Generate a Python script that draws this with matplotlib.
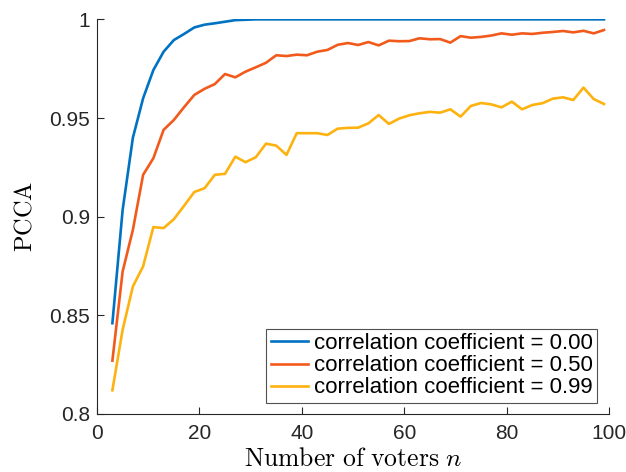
import numpy as np
import matplotlib
matplotlib.use('Agg')
import matplotlib.pyplot as plt

# number of voters (odd sizes only)
n_voters = list(range(3, 100, 2))

pcca_rho_000 = [0.846, 0.9034, 0.9400, 0.9600, 0.9743, 0.9836, 0.9895, 0.9926,
                0.9959, 0.9973, 0.9980, 0.9988, 0.9996, 0.9998] + [1.0] * 35

pcca_rho_050 = [0.827, 0.8722, 0.8933, 0.9212, 0.9296, 0.9440, 0.9490, 0.9555,
                0.9617, 0.9648, 0.9672, 0.9723, 0.9706, 0.9735, 0.9757, 0.9780,
                0.9818, 0.9814, 0.9821, 0.9818, 0.9836, 0.9845, 0.9871, 0.9880,
                0.9870, 0.9885, 0.9868, 0.9892, 0.9889, 0.9890, 0.9904, 0.9899,
                0.9900, 0.9882, 0.9915, 0.9907, 0.9911, 0.9918, 0.9929, 0.9922,
                0.9929, 0.9926, 0.9932, 0.9936, 0.9941, 0.9934, 0.9942, 0.9929,
                0.9946]

pcca_rho_099 = [0.812, 0.8427, 0.8646, 0.8748, 0.8947, 0.8942, 0.8987, 0.9055,
                0.9125, 0.9144, 0.9212, 0.9217, 0.9304, 0.9276, 0.9301, 0.9370,
                0.9360, 0.9313, 0.9423, 0.9423, 0.9423, 0.9414, 0.9446, 0.9450,
                0.9451, 0.9473, 0.9515, 0.9470, 0.9497, 0.9514, 0.9524, 0.9531,
                0.9527, 0.9544, 0.9507, 0.9561, 0.9576, 0.9569, 0.9554, 0.9583,
                0.9544, 0.9566, 0.9575, 0.9598, 0.9605, 0.9591, 0.9654, 0.9596,
                0.9571]

labels = ['correlation coefficient = 0.00',
          'correlation coefficient = 0.50',
          'correlation coefficient = 0.99']
colors = ['#0072C2', '#F25A1C', '#FDB20F']

x_ticks = [0, 20, 40, 60, 80, 100]
y_ticks = [0.8, 0.85, 0.9, 0.95, 1.0]
y_tick_labels = ['0.8', '0.85', '0.9', '0.95', '1']

plt.rcParams['font.family'] = ['Liberation Sans', 'DejaVu Sans']
plt.rcParams['mathtext.fontset'] = 'cm'

fig = plt.figure(figsize=(6.26, 4.72), dpi=100)
ax = fig.add_axes([0.155, 0.123, 0.818, 0.836])

for ys, lab, c in zip([pcca_rho_000, pcca_rho_050, pcca_rho_099], labels, colors):
    ax.plot(n_voters, ys, color=c, linewidth=1.9, label=lab)

ax.set_xlim(0, 100)
ax.set_ylim(0.8, 1.0)
ax.set_xticks(x_ticks)
ax.set_yticks(y_ticks)
ax.set_yticklabels(y_tick_labels)

for side in ['top', 'right']:
    ax.spines[side].set_visible(False)
for side in ['left', 'bottom']:
    ax.spines[side].set_color('#262626')
    ax.spines[side].set_linewidth(0.8)
ax.tick_params(direction='in', length=5, width=0.8, colors='#262626',
               labelsize=15)
ax.tick_params(axis='x', pad=7)
ax.tick_params(axis='y', pad=5)

ax.set_xlabel(r'$\mathrm{Number\ of\ voters}\ n$', fontsize=18.5, labelpad=3)
ax.set_ylabel(r'$\mathrm{PCCA}$', fontsize=17.5, labelpad=9)

leg = ax.legend(loc='lower right', bbox_to_anchor=(0.977, 0.028), fontsize=16,
                frameon=True, fancybox=False, edgecolor='#262626',
                handlelength=1.7, handletextpad=0.25, labelspacing=0.05,
                borderpad=0.2, borderaxespad=0)
leg.get_frame().set_linewidth(0.8)

fig.savefig('out.png', dpi=100)
